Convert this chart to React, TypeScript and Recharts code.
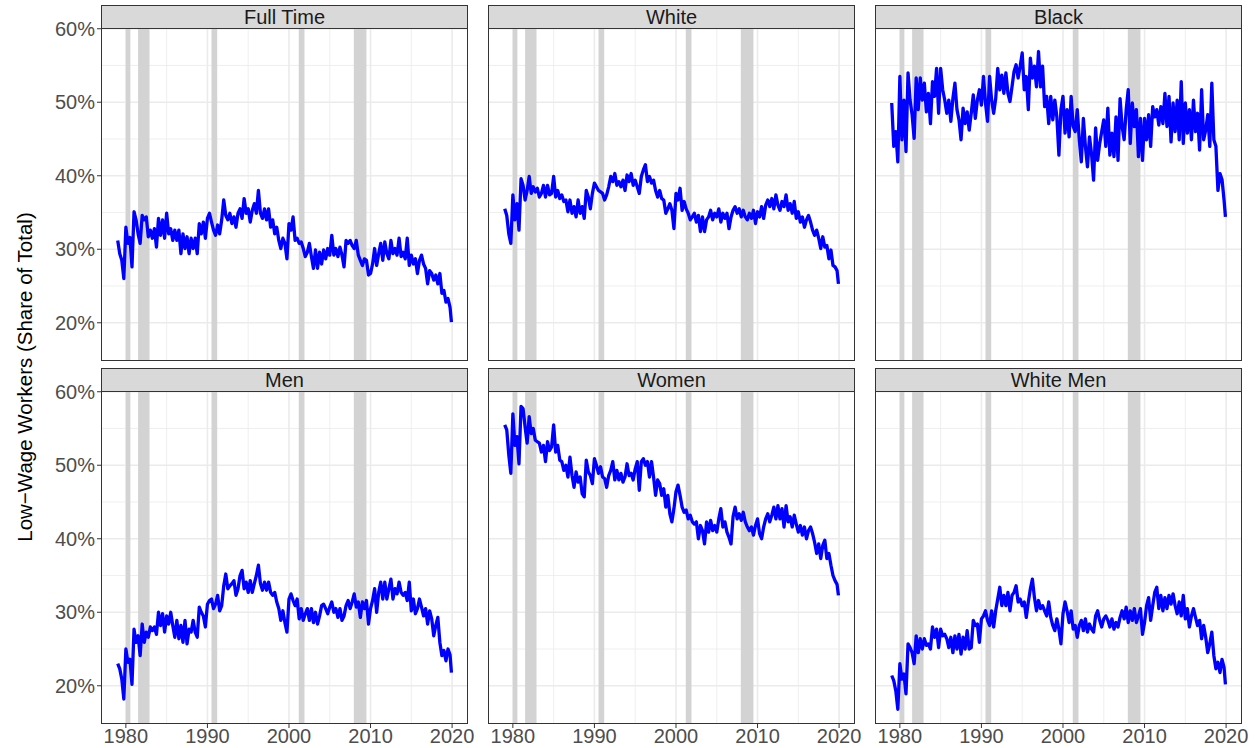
import React from 'react';
import { CartesianGrid, Line, LineChart, ReferenceArea, XAxis, YAxis } from 'recharts';

// quarterly observations, Jan 1979 .. Oct 2019, plus the last month
const dates: number[] = [];
for (let i = 0; i < 164; i++) dates.push(1979 + i * 0.25);
dates.push(2019.92);

const xTicks = [1980, 1990, 2000, 2010, 2020];
const xMinor = [1985, 1995, 2005, 2015];
const yTicks = [20, 30, 40, 50, 60];
const yMinor = [25, 35, 45, 55];

// NBER recessions
const recessions: [number, number][] = [
  [1980.0, 1980.55],
  [1981.5, 1982.9],
  [1990.5, 1991.2],
  [2001.2, 2001.9],
  [2007.95, 2009.5],
];

const fullTime = [
  31.2, 29.4, 28.5, 26.0, 33.0, 30.8, 31.6, 27.6, 35.1, 34.0, 32.1, 30.8,
  34.6, 34.0, 34.4, 31.7, 32.6, 31.5, 32.8, 30.3, 34.2, 31.9, 34.0, 31.5,
  34.9, 32.1, 32.8, 31.2, 32.6, 31.2, 32.6, 29.4, 32.1, 30.1, 31.7, 29.4,
  31.5, 30.1, 31.5, 29.4, 33.5, 32.1, 33.7, 31.5, 34.2, 34.9, 33.7, 32.6,
  31.9, 33.3, 32.1, 34.0, 36.7, 34.6, 34.0, 34.9, 33.5, 34.4, 33.0, 34.9,
  35.5, 34.2, 36.9, 34.9, 35.5, 33.7, 35.3, 36.2, 34.9, 38.0, 34.9, 34.2,
  35.5, 34.0, 35.5, 33.0, 34.0, 32.1, 33.0, 31.2, 30.1, 31.5, 30.8, 28.7,
  33.5, 32.6, 34.4, 31.2, 31.5, 30.8, 31.0, 30.1, 29.0, 29.6, 30.8, 29.0,
  27.4, 29.9, 27.4, 29.6, 28.0, 29.9, 28.7, 30.1, 29.2, 31.9, 29.2, 30.1,
  29.0, 30.3, 29.2, 27.6, 31.2, 30.8, 31.2, 30.5, 30.1, 31.2, 29.2, 28.5,
  27.8, 28.7, 28.5, 26.5, 26.7, 28.0, 30.1, 27.8, 29.4, 30.8, 28.5, 31.0,
  29.4, 28.7, 31.2, 29.4, 30.1, 29.2, 31.5, 29.0, 29.6, 28.7, 31.5, 27.8,
  29.2, 28.0, 28.7, 26.7, 28.5, 29.2, 28.0, 27.4, 25.3, 27.1, 26.7, 25.8,
  26.5, 25.3, 26.7, 24.0, 24.4, 22.8, 23.3, 22.1, 20.1,
];

const white = [
  35.5, 34.6, 32.1, 30.8, 37.4, 34.0, 36.2, 32.6, 39.6, 38.7, 36.7, 38.0,
  39.9, 37.6, 38.5, 37.8, 38.3, 37.1, 37.6, 38.7, 37.1, 38.7, 37.4, 37.6,
  39.9, 37.1, 38.0, 36.9, 37.4, 36.5, 36.7, 35.1, 36.7, 34.9, 35.8, 34.4,
  36.7, 34.9, 35.8, 34.2, 38.0, 37.1, 35.5, 37.6, 39.0, 38.5, 38.0, 37.8,
  37.6, 36.7, 37.4, 38.5, 39.9, 39.2, 40.3, 38.7, 39.2, 38.5, 39.4, 38.0,
  40.1, 39.2, 40.3, 38.7, 39.4, 38.5, 37.6, 39.9, 40.8, 41.5, 39.2, 39.9,
  39.0, 39.4, 38.0, 37.1, 38.0, 36.9, 36.7, 34.9, 35.5, 36.2, 35.3, 32.8,
  37.6, 36.7, 38.3, 35.3, 36.5, 35.5, 34.9, 34.0, 34.4, 34.9, 33.7, 34.6,
  32.4, 34.4, 32.4, 34.0, 34.4, 35.3, 34.0, 34.9, 34.4, 35.5, 33.7, 34.9,
  34.2, 34.9, 32.8, 34.4, 35.3, 35.8, 34.9, 35.5, 34.4, 35.3, 34.4, 34.0,
  34.9, 34.2, 35.3, 33.5, 35.1, 34.4, 35.8, 34.2, 36.0, 36.7, 35.8, 36.9,
  35.5, 37.4, 36.0, 35.3, 36.5, 35.8, 37.4, 35.3, 36.2, 34.9, 36.5, 34.2,
  35.1, 33.7, 34.4, 33.0, 34.0, 34.6, 33.7, 32.6, 31.9, 32.6, 31.5, 30.1,
  31.7, 30.3, 30.5, 28.7, 29.9, 27.8, 27.6, 27.1, 25.3,
];

const black = [
  49.9, 44.0, 46.0, 41.9, 53.5, 44.9, 50.3, 43.3, 54.0, 50.3, 48.3, 45.1,
  53.3, 49.0, 53.3, 50.3, 52.6, 48.7, 51.2, 47.1, 52.8, 50.8, 54.6, 48.5,
  54.6, 51.7, 50.3, 48.5, 50.3, 47.4, 50.5, 52.6, 49.0, 47.6, 44.9, 49.2,
  47.1, 48.7, 46.2, 48.5, 51.0, 47.8, 50.3, 51.7, 49.6, 53.5, 49.9, 47.4,
  53.5, 50.3, 48.5, 50.5, 54.6, 51.7, 53.7, 51.2, 54.0, 51.2, 50.1, 52.1,
  54.2, 55.1, 53.3, 54.9, 56.7, 51.7, 53.5, 49.0, 56.0, 53.3, 54.9, 52.1,
  56.9, 52.1, 54.9, 49.4, 50.8, 47.1, 50.8, 47.6, 50.3, 48.0, 42.8, 49.0,
  50.8, 45.8, 49.0, 45.3, 50.8, 46.7, 46.0, 49.0, 44.9, 41.9, 47.8, 44.0,
  41.2, 45.3, 43.0, 39.4, 46.5, 42.1, 44.4, 46.0, 47.6, 44.0, 49.2, 42.8,
  45.8, 42.6, 48.0, 42.1, 50.5, 46.7, 44.9, 49.0, 51.7, 44.4, 49.9, 46.7,
  49.0, 42.6, 47.8, 42.1, 47.8, 44.9, 48.3, 44.0, 49.4, 48.0, 49.0, 46.9,
  49.4, 47.1, 51.2, 46.7, 50.8, 44.6, 49.9, 46.0, 50.3, 44.9, 52.8, 44.4,
  49.9, 45.8, 49.0, 44.9, 50.3, 46.0, 48.5, 43.5, 51.7, 44.9, 46.2, 48.3,
  44.0, 52.6, 44.9, 44.0, 38.0, 40.3, 39.5, 36.7, 34.4,
];

const men = [
  23.0, 22.3, 20.9, 18.2, 25.0, 23.2, 23.6, 20.2, 27.7, 25.9, 26.8, 24.1,
  28.4, 25.9, 27.3, 26.6, 28.0, 27.5, 28.0, 27.0, 30.0, 28.2, 29.8, 27.3,
  29.5, 28.4, 30.0, 28.2, 26.6, 28.9, 26.4, 28.2, 25.9, 28.9, 25.7, 27.7,
  27.3, 28.9, 27.3, 26.6, 30.7, 30.0, 29.5, 28.0, 31.1, 31.6, 31.8, 30.5,
  31.1, 32.3, 30.2, 30.9, 33.6, 35.2, 33.2, 33.6, 33.9, 34.3, 32.3, 33.2,
  35.0, 35.7, 33.2, 34.1, 32.7, 34.3, 32.7, 33.9, 35.0, 36.4, 33.9, 33.0,
  34.1, 33.0, 34.1, 32.7, 32.3, 32.7, 31.4, 30.5, 28.9, 30.2, 28.6, 27.3,
  31.8, 32.5, 31.6, 30.9, 31.8, 29.1, 30.5, 28.9, 29.8, 30.5, 28.9, 30.5,
  28.6, 30.0, 28.4, 29.5, 30.9, 31.1, 30.5, 29.8, 30.7, 31.4, 30.0, 30.5,
  29.3, 30.5, 28.9, 29.5, 30.9, 31.6, 30.5, 31.4, 32.5, 30.7, 31.4, 29.3,
  31.4, 30.5, 31.6, 28.4, 30.5, 31.6, 33.2, 30.0, 32.7, 34.1, 31.8, 34.1,
  31.8, 33.2, 34.5, 31.8, 33.2, 32.5, 34.1, 32.7, 32.3, 32.7, 31.6, 34.1,
  30.2, 31.8, 29.8, 30.5, 31.8, 30.7, 29.5, 30.5, 28.4, 30.2, 29.1, 26.8,
  28.2, 29.3, 25.9, 24.1, 24.8, 23.4, 25.0, 24.2, 21.8,
];

const women = [
  55.5, 54.8, 51.4, 48.9, 57.0, 52.7, 53.9, 50.2, 58.0, 57.7, 55.2, 53.0,
  56.6, 54.3, 55.0, 53.4, 53.2, 53.0, 51.8, 52.7, 50.5, 53.2, 52.0, 52.5,
  55.5, 51.8, 52.7, 50.7, 50.5, 49.3, 50.0, 48.4, 51.1, 48.6, 47.0, 49.1,
  47.7, 48.4, 46.1, 45.7, 50.7, 49.1, 48.6, 47.5, 50.9, 50.0, 48.9, 49.8,
  48.4, 48.2, 47.0, 48.6, 49.3, 50.5, 48.0, 49.3, 48.0, 48.9, 47.7, 48.4,
  50.2, 48.6, 48.9, 48.0, 49.5, 50.5, 46.6, 50.5, 50.9, 50.0, 50.5, 48.4,
  50.5, 48.4, 45.9, 48.0, 47.5, 45.9, 46.8, 44.3, 45.9, 43.4, 42.3, 44.1,
  46.4, 47.3, 45.9, 44.3, 43.6, 43.9, 42.7, 43.2, 42.3, 42.0, 42.3, 40.0,
  41.8, 41.1, 39.3, 42.3, 40.9, 42.5, 41.1, 41.8, 40.9, 42.7, 44.1, 41.6,
  42.3, 40.9, 40.2, 39.3, 43.0, 44.3, 42.7, 43.4, 42.5, 43.6, 42.3, 41.6,
  41.1, 41.6, 40.5, 41.8, 42.7, 40.7, 40.0, 41.6, 42.7, 43.4, 42.3, 43.2,
  44.3, 42.7, 44.5, 42.7, 44.1, 41.6, 44.5, 42.3, 43.0, 41.6, 43.2, 42.0,
  40.9, 41.8, 40.5, 41.6, 40.0, 41.1, 41.6, 40.7, 39.5, 38.0, 39.3, 37.3,
  39.1, 39.8, 37.3, 38.0, 36.4, 35.0, 34.3, 33.8, 32.3,
];

const whiteMen = [
  21.4, 20.7, 19.3, 16.8, 23.0, 20.9, 21.6, 18.9, 25.7, 25.2, 24.5, 23.0,
  26.8, 24.5, 26.4, 25.0, 26.4, 25.5, 25.7, 25.0, 28.0, 26.6, 27.7, 25.2,
  27.7, 26.8, 27.0, 26.4, 25.2, 26.6, 24.5, 26.8, 25.0, 27.0, 24.3, 26.6,
  25.0, 27.5, 25.0, 25.2, 28.9, 28.2, 28.4, 25.9, 29.1, 29.5, 30.2, 28.9,
  28.2, 30.2, 28.0, 30.2, 31.8, 33.4, 30.9, 32.3, 30.9, 32.7, 30.2, 32.3,
  32.7, 33.6, 31.4, 31.8, 30.9, 31.4, 29.3, 31.4, 33.2, 34.5, 32.0, 30.2,
  31.6, 30.5, 30.9, 30.2, 29.5, 31.4, 29.3, 28.2, 27.5, 29.1, 27.7, 25.7,
  29.8, 31.4, 30.2, 28.6, 30.2, 27.7, 28.2, 26.6, 28.2, 28.9, 27.5, 29.1,
  27.3, 28.4, 27.7, 27.3, 29.5, 30.2, 28.9, 28.0, 29.1, 29.5, 28.9, 28.0,
  29.1, 27.7, 28.6, 28.0, 29.3, 30.2, 29.1, 30.7, 28.6, 30.2, 28.9, 30.5,
  28.6, 29.5, 30.5, 27.0, 28.6, 30.9, 32.0, 28.9, 30.9, 32.7, 33.4, 30.5,
  32.3, 30.2, 32.0, 30.5, 32.3, 31.1, 32.5, 30.9, 29.8, 31.4, 29.5, 32.3,
  29.1, 30.5, 28.0, 29.5, 30.5, 29.3, 28.2, 28.9, 26.4, 28.2, 26.6, 24.5,
  25.7, 27.3, 24.1, 22.3, 23.2, 21.8, 23.6, 22.5, 20.2,
];

const panels = [
  { title: 'Full Time', values: fullTime },
  { title: 'White', values: white },
  { title: 'Black', values: black },
  { title: 'Men', values: men },
  { title: 'Women', values: women },
  { title: 'White Men', values: whiteMen },
];

const COL_LEFT = [101, 488, 875];
const ROW_TOP = [28, 391];
const PW = 367;
const PH = 333;
const Y_AXIS_W = 60;
const X_AXIS_H = 30;
const PAD_TOP = 16;
const PAD_RIGHT = 30;
const FONT = '"Liberation Sans", Arial, sans-serif';

function Panel({ title, values, idx }: { title: string; values: number[]; idx: number }) {
  const col = idx % 3;
  const row = Math.floor(idx / 3);
  const left = COL_LEFT[col];
  const top = ROW_TOP[row];
  const showY = col === 0;
  const showX = row === 1;
  const data = dates.map((x, i) => ({ x, v: values[i] }));

  return (
    <>
      <div
        style={{
          position: 'absolute',
          left,
          top: top - 23,
          width: PW,
          height: 24,
          boxSizing: 'border-box',
          background: '#D9D9D9',
          border: '1px solid #333333',
          display: 'flex',
          alignItems: 'center',
          justifyContent: 'center',
          fontSize: 20,
          color: '#1A1A1A',
        }}
      >
        {title}
      </div>
      <div
        style={{
          position: 'absolute',
          left: left - (showY ? Y_AXIS_W : 0),
          top: top - PAD_TOP,
        }}
      >
        <LineChart
          width={PW + (showY ? Y_AXIS_W : 0) + PAD_RIGHT}
          height={PH + PAD_TOP + (showX ? X_AXIS_H : 0)}
          data={data}
          margin={{ top: PAD_TOP, right: PAD_RIGHT, bottom: 0, left: 0 }}
        >
          <CartesianGrid
            horizontalValues={yMinor}
            verticalValues={xMinor}
            stroke="#EBEBEB"
            strokeWidth={0.8}
          />
          <CartesianGrid
            horizontalValues={yTicks}
            verticalValues={xTicks}
            stroke="#EBEBEB"
            strokeWidth={1.6}
          />
          <XAxis
            dataKey="x"
            type="number"
            domain={[1976.95, 2021.95]}
            ticks={xTicks}
            hide={!showX}
            height={X_AXIS_H}
            axisLine={false}
            tickSize={4}
            tickMargin={1}
            tickLine={{ stroke: '#333333' }}
            tick={{ fill: '#4D4D4D', fontSize: 20, fontFamily: FONT }}
            interval={0}
            allowDataOverflow
          />
          <YAxis
            type="number"
            domain={[14.8, 60.1]}
            ticks={yTicks}
            hide={!showY}
            width={Y_AXIS_W}
            axisLine={false}
            tickSize={4}
            tickMargin={2}
            tickLine={{ stroke: '#333333' }}
            tick={{ fill: '#4D4D4D', fontSize: 20, fontFamily: FONT }}
            tickFormatter={(v) => `${v}%`}
            interval={0}
            allowDataOverflow
          />
          {recessions.map(([a, b]) => (
            <ReferenceArea key={a} x1={a} x2={b} fill="#D3D3D3" fillOpacity={1} stroke="none" />
          ))}
          <Line
            type="linear"
            dataKey="v"
            stroke="#0000FF"
            strokeWidth={3.3}
            strokeLinejoin="round"
            dot={false}
            isAnimationActive={false}
          />
        </LineChart>
      </div>
      <div
        style={{
          position: 'absolute',
          left,
          top,
          width: PW,
          height: PH,
          boxSizing: 'border-box',
          border: '1px solid #333333',
          pointerEvents: 'none',
        }}
      />
    </>
  );
}

export default function App() {
  return (
    <div
      style={{
        position: 'absolute',
        left: 0,
        top: 0,
        width: 1260,
        height: 748,
        background: '#FFFFFF',
        fontFamily: FONT,
        overflow: 'hidden',
      }}
    >
      {panels.map((p, i) => (
        <Panel key={p.title} title={p.title} values={p.values} idx={i} />
      ))}
      <div
        style={{
          position: 'absolute',
          left: 25,
          top: 377,
          transform: 'translate(-50%, -50%) rotate(-90deg)',
          whiteSpace: 'nowrap',
          fontSize: 20.5,
          color: '#000000',
        }}
      >
        Low−Wage Workers (Share of Total)
      </div>
    </div>
  );
}
